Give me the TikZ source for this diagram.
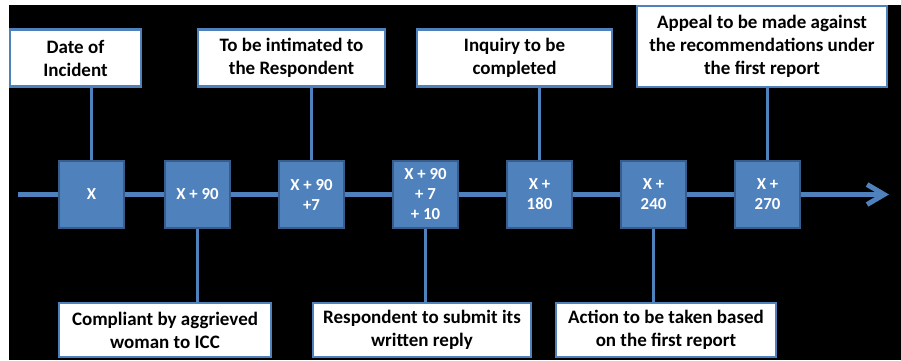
\documentclass[tikz,border=0pt]{standalone}
\usepackage{fontspec}
\setmainfont{Carlito}
\usetikzlibrary{arrows.meta}
\definecolor{tlblue}{HTML}{4F81BD}
\definecolor{tledge}{HTML}{385D8A}

\begin{document}
\begin{tikzpicture}[x=1pt,y=1pt,
    day/.style={draw=tledge,line width=2pt,fill=tlblue,text=white,
      font=\bfseries\fontsize{16.8}{20}\selectfont,
      minimum width=65pt,minimum height=67pt,inner sep=0pt,align=center},
    event/.style={draw=tlblue,line width=2.5pt,fill=white,text=black,
      font=\bfseries\fontsize{19}{23}\selectfont,
      minimum height=57pt,inner sep=0pt,align=center},
    link/.style={draw=tlblue,line width=3pt}]
  \fill[white] (0,0) rectangle (901,360);
  \fill[black] (9,0) rectangle (901,355);

  \coordinate (start) at (18,165.5);
  \coordinate (end) at (889,165.5);
  \draw[tlblue,line width=5pt,-{Straight Barb[length=17pt,width=20pt]}] (start) -- (end);

  \node[day] (d0) at (91.5,165.5) {X};
  \node[day] (d1) at (197.5,165.5) {X + 90};
  \node[day] (d2) at (311.5,165.5) {X + 90\\+7};
  \node[day] (d3) at (425.5,165.5) {X + 90\\+ 7\\+ 10};
  \node[day] (d4) at (539.5,165.5) {X +\\180};
  \node[day] (d5) at (653.5,165.5) {X +\\240};
  \node[day] (d6) at (767.5,165.5) {X +\\270};

  \node[event,minimum width=131pt] (date) at (75.5,302) {Date of\\Incident};
  \node[event,minimum width=187pt] (intim) at (291.5,302) {To be intimated to\\the Respondent};
  \node[event,minimum width=195pt] (inq) at (514.5,302) {Inquiry to be\\completed};
  \node[event,minimum width=250pt,minimum height=81pt] (appeal) at (762,313.5)
    {Appeal to be made against\\the recommendations under\\the first report};

  \node[event,minimum width=212pt,minimum height=54pt] (compl) at (165,30) {Compliant by aggrieved\\woman to ICC};
  \node[event,minimum width=218pt,minimum height=54pt] (reply) at (422,30) {Respondent to submit its\\written reply};
  \node[event,minimum width=220pt,minimum height=54pt] (action) at (666,30) {Action to be taken based\\on the first report};

  \draw[link] (date.south -| d0) -- (d0.north);
  \draw[link] (intim.south -| d2) -- (d2.north);
  \draw[link] (inq.south -| d4) -- (d4.north);
  \draw[link] (appeal.south -| d6) -- (d6.north);
  \draw[link] (d1.south) -- (d1 |- compl.north);
  \draw[link] (d3.south) -- (d3 |- reply.north);
  \draw[link] (d5.south) -- (d5 |- action.north);
\end{tikzpicture}
\end{document}
